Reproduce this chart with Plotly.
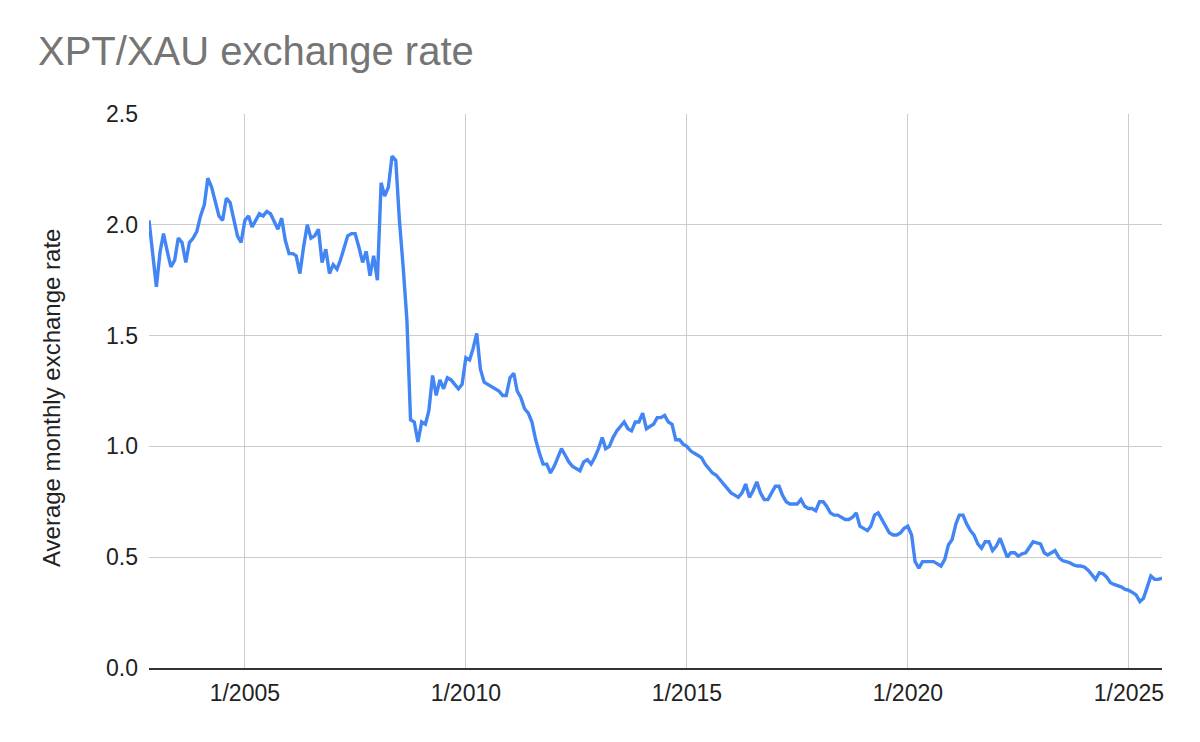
import pandas as pd
import plotly.graph_objects as go

start_month = "2002-11-01"

rates_2002_2005 = [2.02, 1.86, 1.72, 1.88, 1.96, 1.88, 1.81, 1.84, 1.94, 1.92, 1.83, 1.92,
                   1.94, 1.97, 2.04, 2.09, 2.21, 2.17, 2.10, 2.04, 2.02, 2.12, 2.10, 2.03,
                   1.95, 1.92, 2.02, 2.04, 1.99, 2.02, 2.05, 2.04, 2.06, 2.05, 2.01, 1.98]
rates_2005_2008 = [2.03, 1.93, 1.87, 1.87, 1.86, 1.78, 1.90, 2.00, 1.94, 1.95, 1.98, 1.83,
                   1.89, 1.78, 1.82, 1.80, 1.84, 1.89, 1.95, 1.96, 1.96, 1.90, 1.83, 1.88,
                   1.77, 1.86, 1.75]
rates_2008_2010 = [2.19, 2.13, 2.17, 2.31, 2.29, 2.02, 1.81, 1.57, 1.12, 1.11, 1.02, 1.11,
                   1.10, 1.16, 1.32, 1.23, 1.30, 1.26, 1.31, 1.30, 1.28, 1.26, 1.28, 1.40,
                   1.39, 1.44, 1.51, 1.35, 1.29, 1.28, 1.27, 1.26, 1.25]
rates_2010_2013 = [1.23, 1.23, 1.31, 1.33, 1.25, 1.22, 1.17, 1.15, 1.11, 1.03, 0.97, 0.92,
                   0.92, 0.88, 0.91, 0.95, 0.99, 0.96, 0.93, 0.91, 0.90, 0.89, 0.93, 0.94,
                   0.92, 0.95, 0.99, 1.04, 0.99, 1.00, 1.04, 1.07, 1.09, 1.11, 1.08]
rates_2013_2015 = [1.07, 1.11, 1.11, 1.15, 1.08, 1.09, 1.10, 1.13, 1.13, 1.14, 1.11, 1.10,
                   1.03, 1.03, 1.01, 1.00, 0.98, 0.97, 0.96, 0.95, 0.92, 0.90, 0.88, 0.87,
                   0.85]
rates_2016_2019 = [0.83, 0.81, 0.79, 0.78, 0.77, 0.79, 0.83, 0.77, 0.80, 0.84, 0.79, 0.76,
                   0.76, 0.79, 0.82, 0.82, 0.78, 0.75, 0.74, 0.74, 0.74, 0.76, 0.73, 0.72,
                   0.72, 0.71, 0.75, 0.75, 0.73, 0.70, 0.69, 0.69, 0.68, 0.67, 0.67, 0.68,
                   0.70, 0.64, 0.63]
rates_2019_2021 = [0.62, 0.64, 0.69, 0.70, 0.67, 0.64, 0.61, 0.60, 0.60, 0.61, 0.63, 0.64,
                   0.60, 0.48, 0.45, 0.48, 0.48, 0.48, 0.48, 0.47, 0.46, 0.49, 0.555, 0.58,
                   0.65, 0.69, 0.69, 0.65, 0.62, 0.60, 0.56, 0.54, 0.57]
rates_2021_2025 = [0.57, 0.53, 0.55, 0.585, 0.545, 0.50, 0.52, 0.52, 0.505, 0.515, 0.52, 0.545,
                   0.57, 0.565, 0.56, 0.52, 0.51, 0.52, 0.53, 0.50, 0.485, 0.48, 0.475, 0.465,
                   0.46, 0.46, 0.455, 0.44, 0.42, 0.40, 0.43, 0.425, 0.41, 0.385, 0.377, 0.372,
                   0.365, 0.355, 0.35, 0.34, 0.33, 0.30, 0.315, 0.365, 0.415, 0.40, 0.40, 0.405]

rates = (rates_2002_2005 + rates_2005_2008 + rates_2008_2010 + rates_2010_2013
         + rates_2013_2015 + rates_2016_2019 + rates_2019_2021 + rates_2021_2025)
months = pd.date_range(start_month, periods=len(rates), freq="MS")

x_tick_values = ["2005-01-01", "2010-01-01", "2015-01-01", "2020-01-01", "2025-01-01"]
x_tick_labels = ["1/2005", "1/2010", "1/2015", "1/2020", "1/2025"]
y_tick_values = [0.0, 0.5, 1.0, 1.5, 2.0, 2.5]
y_tick_labels = ["0.0", "0.5", "1.0", "1.5", "2.0", "2.5"]

FONT = "Arial, 'Liberation Sans', Helvetica, sans-serif"

# page body has an 8px margin: figure is sized to fit inside the window
W, H = 1184, 726

fig = go.Figure()
fig.add_trace(go.Scatter(
    x=months, y=rates, mode="lines",
    line=dict(color="#4285F4", width=3.4),
    name="XPT/XAU",
))

fig.update_layout(
    width=W, height=H,
    paper_bgcolor="white", plot_bgcolor="white",
    margin=dict(l=141, r=30, t=106, b=66),
    showlegend=False,
    font=dict(family=FONT, size=23, color="#222222"),
    title=dict(
        text="XPT/XAU exchange rate",
        font=dict(family=FONT, size=40, color="#757575"),
        xref="container", yref="container",
        x=30 / W, y=1 - 43 / H,
        xanchor="left", yanchor="middle",
    ),
    xaxis=dict(
        range=[months[0], months[-1]],
        tickmode="array", tickvals=x_tick_values, ticktext=x_tick_labels,
        showgrid=True, gridcolor="#cccccc", gridwidth=1,
        showline=True, linecolor="#333333", linewidth=2,
        zeroline=False, ticks="", ticklabelstandoff=3,
        tickfont=dict(family=FONT, size=23, color="#222222"),
    ),
    yaxis=dict(
        range=[0, 2.5],
        tickmode="array", tickvals=y_tick_values, ticktext=y_tick_labels,
        showgrid=True, gridcolor="#cccccc", gridwidth=1,
        zeroline=False, showline=False, ticks="",
        ticklabelstandoff=10,
        tickfont=dict(family=FONT, size=23, color="#222222"),
    ),
    annotations=[dict(
        text="Average monthly exchange rate",
        xref="paper", yref="paper",
        x=(51 - 149) / 1013, y=0.5 - 7 / 554,
        xanchor="center", yanchor="middle",
        textangle=-90, showarrow=False,
        font=dict(family=FONT, size=24, color="#222222"),
    )],
)

fig.write_html("out.html")
